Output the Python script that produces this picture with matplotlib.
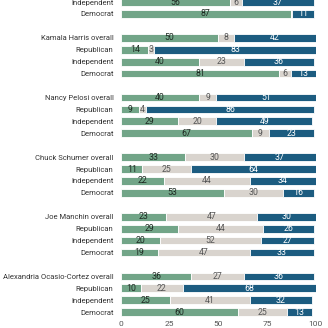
import matplotlib
matplotlib.use("Agg")
from matplotlib import pyplot as plt

plt.rcParams['font.family'] = ['Roboto', 'DejaVu Sans']

# rows, top to bottom ('' = gap between groups)
labels = ["Independent", "Democrat", "",
          "Kamala Harris overall", "Republican", "Independent", "Democrat", "",
          "Nancy Pelosi overall", "Republican", "Independent", "Democrat", "",
          "Chuck Schumer overall", "Republican", "Independent", "Democrat", "",
          "Joe Manchin overall", "Republican", "Independent", "Democrat", "",
          "Alexandria Ocasio-Cortez overall", "Republican", "Independent", "Democrat"]

favorable = [56, 87, None,
             50, 14, 40, 81, None,
             40, 9, 29, 67, None,
             33, 11, 22, 53, None,
             23, 29, 20, 19, None,
             36, 10, 25, 60]
neutral = [6, 1, None,
           8, 3, 23, 6, None,
           9, 4, 20, 9, None,
           30, 25, 44, 30, None,
           47, 44, 52, 47, None,
           27, 22, 41, 25]
unfavorable = [37, 11, None,
               42, 83, 36, 13, None,
               51, 86, 49, 23, None,
               37, 64, 34, 16, None,
               30, 26, 27, 33, None,
               36, 68, 32, 13]

c_fav = "#72a588"
c_neu = "#d9d4ce"
c_unf = "#1c5c80"

fig = plt.figure(figsize=(3.28, 3.28), dpi=100)
ax = fig.add_axes([0.369, 0.03, 0.594, 0.97])

for i, lab in enumerate(labels):
    if lab == "":
        continue
    segs = [(favorable[i], c_fav, "#1e2a22"),
            (neutral[i], c_neu, "#555555"),
            (unfavorable[i], c_unf, "white")]
    left = 0
    for v, col, tc in segs:
        ax.barh(i, v, left=left, height=0.65, color=col, edgecolor="white", linewidth=0.6)
        if v >= 3:
            ax.text(left + v / 2, i, str(v), ha="center", va="center", fontsize=6.3, color=tc)
        left += v

ax.set_yticks(range(len(labels)))
ax.set_yticklabels(labels, fontsize=5.5, color="#333333")
ax.set_ylim(26.5, -0.17)
ax.set_xlim(0, 100)
ax.set_xticks([0, 25, 50, 75, 100])
ax.tick_params(axis="x", length=0, labelsize=6, labelcolor="#555555", pad=2)
ax.tick_params(axis="y", length=0, pad=5.5)
for s in ax.spines.values():
    s.set_visible(False)

fig.savefig("out.png", dpi=100)
